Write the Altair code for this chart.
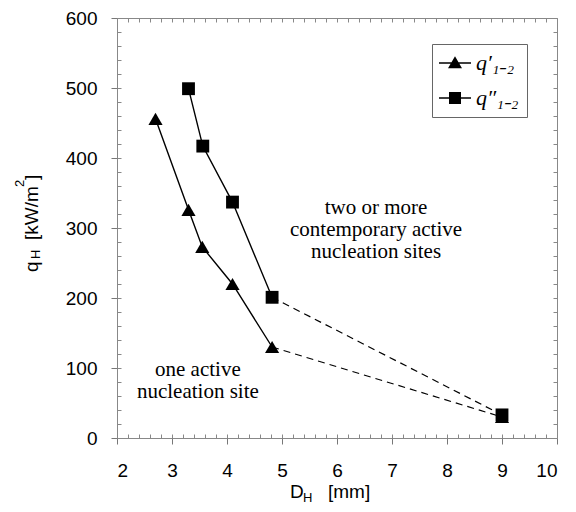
import altair as alt
import pandas as pd

# ---------------- data ----------------
series_names = ["q′₁₋₂", "q″₁₋₂"]
tri_x = [2.7, 3.3, 3.55, 4.1, 4.82, 9.0]
tri_y = [456, 326, 273, 220, 130, 30]
sq_x = [3.3, 3.56, 4.1, 4.82, 9.0]
sq_y = [499, 417, 337, 201, 33]

x_ticks = [2, 3, 4, 5, 6, 7, 8, 9, 10]
y_ticks = [0, 100, 200, 300, 400, 500, 600]
x_minor = [round(2 + 0.2 * i, 1) for i in range(41)]
y_minor = list(range(0, 601, 20))

note_texts = ["two or more\ncontemporary active\nnucleation sites", "one active\nnucleation site"]
note_x = [6.71, 3.47]
note_y = [320, 89]

# ---------------- tables ----------------
rows = []
for name, xs_, ys_ in [(series_names[0], tri_x, tri_y), (series_names[1], sq_x, sq_y)]:
    n = len(xs_)
    for i, (xv, yv) in enumerate(zip(xs_, ys_)):
        rows.append({"x": xv, "y": yv, "series": name, "i": i,
                     "solid": i < n - 1, "dash": i >= n - 2})
df = pd.DataFrame(rows)
notes = pd.DataFrame({"x": note_x, "y": note_y, "t": note_texts})

W, H = 440, 420
xs = alt.Scale(domain=[2, 10], nice=False, zero=False)
ys = alt.Scale(domain=[0, 600], nice=False, zero=False)

LAB = dict(labelFont="Liberation Sans", labelFontSize=19, labelColor="black",
           tickColor="#777", domain=False, grid=False, title=None)
NOLAB = dict(labels=False, tickColor="#888", domain=False, grid=False, title=None)

base = alt.Chart(df)

solid = base.transform_filter("datum.solid").mark_line(color="black", strokeWidth=1.4).encode(
    x=alt.X("x:Q", scale=xs, axis=alt.Axis(orient="bottom", values=x_ticks, format="d",
                                           tickSize=6, labelPadding=17, **LAB)),
    y=alt.Y("y:Q", scale=ys, axis=alt.Axis(orient="left", values=y_ticks, format="d",
                                           tickSize=6, labelPadding=14, **LAB)),
    detail="series:N", order="i:Q")

dashed = base.transform_filter("datum.dash").mark_line(
    color="black", strokeWidth=1.2, strokeDash=[7, 5]).encode(
    x=alt.X("x:Q", scale=xs, axis=alt.Axis(orient="top", offset=-H, values=x_minor,
                                           tickSize=4, **NOLAB)),
    y=alt.Y("y:Q", scale=ys, axis=alt.Axis(orient="right", offset=-W, values=y_minor,
                                           tickSize=4, **NOLAB)),
    detail="series:N", order="i:Q")

points = base.mark_point(filled=True, opacity=1, color="black").encode(
    x=alt.X("x:Q", scale=xs, axis=alt.Axis(orient="bottom", offset=-H, values=x_minor,
                                           tickSize=4, **NOLAB)),
    y=alt.Y("y:Q", scale=ys, axis=alt.Axis(orient="left", offset=-W, values=y_minor,
                                           tickSize=4, **NOLAB)),
    shape=alt.Shape("series:N", scale=alt.Scale(domain=series_names,
                                                range=["triangle-up", "square"]), legend=None),
    size=alt.Size("series:N", scale=alt.Scale(domain=series_names, range=[200, 165]), legend=None))

# legend glyphs: a thin bar (the line) plus the marker, both filled
bar = "M-2,-0.09L2,-0.09L2,0.09L-2,0.09Z"
tri_path = bar + "M0,-0.85L0.875,0.65L-0.875,0.65Z"
sq_path = bar + "M-0.75,-0.75L0.75,-0.75L0.75,0.75L-0.75,0.75Z"
legend_layer = base.mark_point(filled=True, opacity=0, color="black").encode(
    x=alt.X("x:Q", scale=xs, axis=None),
    y=alt.Y("y:Q", scale=ys, axis=None),
    shape=alt.Shape("series:N",
                    scale=alt.Scale(domain=series_names, range=[tri_path, sq_path]),
                    legend=alt.Legend(title=None, orient="none", legendX=315, legendY=26,
                                      padding=8, symbolSize=256, symbolOffset=4,
                                      labelOffset=10, rowPadding=13,
                                      symbolFillColor="black", symbolStrokeWidth=0,
                                      symbolOpacity=1,
                                      labelFont="Liberation Serif", labelFontStyle="italic",
                                      labelFontSize=22, labelColor="black",
                                      strokeColor="#666", fillColor="white")))

note_layer = alt.Chart(notes).mark_text(
    font="Liberation Serif", fontSize=21, color="black", align="center",
    baseline="alphabetic", lineBreak="\n", lineHeight=22).encode(
    x=alt.X("x:Q", scale=xs, axis=None), y=alt.Y("y:Q", scale=ys, axis=None), text="t:N")

one = pd.DataFrame({"k": [0]})
TF = dict(font="Liberation Sans", color="black", baseline="alphabetic", align="left")
def txt(s, x, y, size=19, angle=0):
    return alt.Chart(one).mark_text(x=x, y=y, fontSize=size, angle=angle, **TF).encode(
        text=alt.value(s))

titles = [
    txt("D", 173, 480), txt("H", 186, 484, 13), txt("[mm]", 211, 480),
    txt("q", -79, 254, 19, 270), txt("H", -77, 241, 13, 270),
    txt("[kW/m", -79, 222, 19, 270), txt("2", -93, 169, 13, 270),
    txt("]", -79, 162, 19, 270),
]

chart = alt.layer(solid, dashed, points, legend_layer, note_layer, *titles).resolve_scale(
    shape="independent", size="independent").resolve_axis(
    x="independent", y="independent").properties(
    width=W, height=H,
    autosize=alt.AutoSizeParams(type="none"),
    padding={"left": 109, "top": 10, "right": 11, "bottom": 66},
    background="white").configure_view(stroke="#888", strokeWidth=1)

chart.save("out.html", embed_options={"renderer": "svg", "actions": False})
